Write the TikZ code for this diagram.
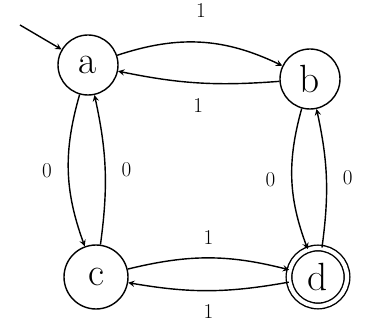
\documentclass[tikz,border=0pt]{standalone}
\usetikzlibrary{arrows}
\begin{document}
\begin{tikzpicture}[>=stealth, line width=1pt,
    state/.style={draw, circle, minimum size=1.5cm, inner sep=0pt, font=\fontsize{28}{30}\selectfont},
    lab/.style={font=\fontsize{15}{16}\selectfont}]
    \useasboundingbox (0,0) rectangle (9.15,8.175);
    % stati
    \node[state] (a) at (2.2,6.55) {a};
    \node[state] (b) at (7.75,6.2) {b};
    \node[state, minimum size=1.6cm] (c) at (2.4,1.25) {c};
    \node[state, double, double distance=3pt, minimum size=1.45cm] (d) at (7.95,1.25) {d};
    % ingresso
    \coordinate (start) at (0.5,7.55);
    \draw[->] (start) -- (a);
    % a - b
    \draw[->] (a) to[bend left=22] node[lab, above=14pt] {1} (b);
    \draw[->] (b) to[bend left=8] node[lab, below=7pt] {1} (a);
    % a - c
    \draw[->] (a) to[bend right=18] node[lab, left=8pt] {0} (c);
    \draw[->] (c) to[bend right=10] node[lab, right=8pt] {0} (a);
    % b - d
    \draw[->] (b) to[bend right=18] node[lab, left=8pt] {0} (d);
    \draw[->] (d) to[bend right=10] node[lab, right=8pt] {0} (b);
    % c - d
    \draw[->] (c) to[bend left=14] node[lab, above=6pt] {1} (d);
    \draw[->] (d) to[bend left=10] node[lab, below=6pt] {1} (c);
\end{tikzpicture}
\end{document}
